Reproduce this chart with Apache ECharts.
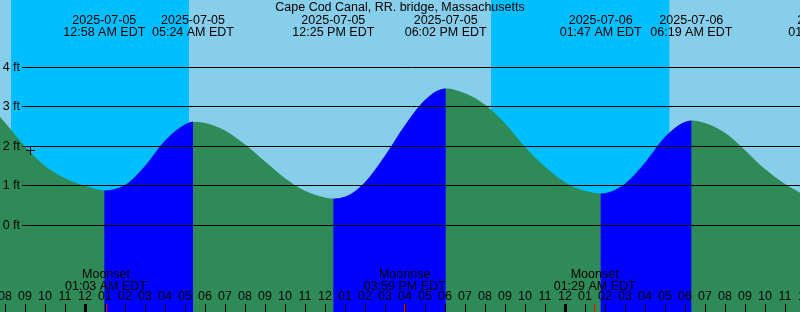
<!DOCTYPE html>
<html><head><meta charset="utf-8">
<script src="https://cdn.jsdelivr.net/npm/echarts@6/dist/echarts.min.js"></script>
<style>html,body{margin:0;padding:0;background:#87CEEB}#c{width:800px;height:312px}</style>
</head><body><div id="c"></div>
<script>
// ---------- data ----------
const titleText = 'Cape Cod Canal, RR. bridge, Massachusetts';
const viewStart = '2025-07-04 19:45';
const viewEnd = '2025-07-06 12:00';

// tide heights (ft)
const sampleTimes = [
  '2025-07-04 19:45','2025-07-04 20:00','2025-07-04 21:00','2025-07-04 22:00','2025-07-04 23:00',
  '2025-07-05 00:00','2025-07-05 02:00','2025-07-05 03:00','2025-07-05 04:00','2025-07-05 05:00',
  '2025-07-05 06:00','2025-07-05 07:00','2025-07-05 08:00','2025-07-05 09:00','2025-07-05 10:00',
  '2025-07-05 11:00','2025-07-05 12:00','2025-07-05 13:00','2025-07-05 14:00','2025-07-05 15:00',
  '2025-07-05 16:00','2025-07-05 17:00','2025-07-05 19:00','2025-07-05 20:00','2025-07-05 21:00',
  '2025-07-05 22:00','2025-07-05 23:00','2025-07-06 00:00','2025-07-06 01:00','2025-07-06 02:00',
  '2025-07-06 03:00','2025-07-06 04:00','2025-07-06 05:00','2025-07-06 06:00','2025-07-06 07:00',
  '2025-07-06 08:00','2025-07-06 09:00','2025-07-06 10:00','2025-07-06 11:00','2025-07-06 11:45'
];
const sampleHeights = [
  2.74, 2.60, 1.99, 1.50, 1.19,
  1.00, 1.02, 1.50, 2.14, 2.55,
  2.59, 2.40, 2.04, 1.61, 1.19,
  0.87, 0.70, 0.72, 1.09, 1.76,
  2.53, 3.17, 3.34, 3.05, 2.58,
  1.98, 1.48, 1.09, 0.87, 0.81,
  1.05, 1.58, 2.23, 2.61, 2.59,
  2.34, 1.90, 1.42, 1.04, 0.82
];

const extremeTimes = ['2025-07-05 00:58','2025-07-05 05:24','2025-07-05 12:25','2025-07-05 18:02','2025-07-06 01:47','2025-07-06 06:19','2025-07-06 13:13'];
const extremeKinds = ['L','H','L','H','L','H','L'];
const extremeHeights = [0.88, 2.62, 0.67, 3.46, 0.80, 2.65, null];
const extremeDates = ['2025-07-05','2025-07-05','2025-07-05','2025-07-05','2025-07-06','2025-07-06','2025-07-06'];
const extremeClock = ['12:58 AM EDT','05:24 AM EDT','12:25 PM EDT','06:02 PM EDT','01:47 AM EDT','06:19 AM EDT','01:13 PM EDT'];

const nightStarts = ['2025-07-04 20:18','2025-07-05 20:18'];
const nightEnds = ['2025-07-05 05:12','2025-07-06 05:13'];

const moonTimes = ['2025-07-05 01:03','2025-07-05 15:59','2025-07-06 01:29'];
const moonEvents = ['Moonset','Moonrise','Moonset'];
const moonClock = ['01:03 AM EDT','03:59 PM EDT','01:29 AM EDT'];

const nowTime = '2025-07-04 21:15';
const nowHeight = 1.90;

const heightTicks = [0, 1, 2, 3, 4];

// ---------- styles ----------
const FONT = '"Liberation Sans", Arial, sans-serif';
const FS = 12.5;
const DAY = '#87CEEB', NIGHT = '#00BFFF', FALL = '#2E8B57', RISE = '#0000FF';
const Y_MIN = -2.1975, Y_MAX = 5.7013;

function t(s) {
  const [d, hm] = s.split(' ');
  const [Y, M, D] = d.split('-').map(Number);
  const [h, m] = hm.split(':').map(Number);
  return new Date(Y, M - 1, D, h, m).getTime();
}
const HOUR = 3600000;
const tMin = t(viewStart), tMax = t(viewEnd);
const hourTicks = [];
for (let v = Math.ceil(tMin / HOUR) * HOUR; v <= tMax; v += HOUR) hourTicks.push(v);
const midnightTicks = hourTicks.filter(v => new Date(v).getHours() === 0);
const moonTicks = moonTimes.map(t);

// tide curve: samples + extremes
const tide = sampleTimes.map((s, i) => [t(s), sampleHeights[i]]);
extremeTimes.forEach((s, i) => { if (extremeHeights[i] != null) tide.push([t(s), extremeHeights[i]]); });
tide.sort((a, b) => a[0] - b[0]);

// rising runs (low -> high), as index ranges into tide
const riseRuns = [];
for (let i = 0; i < extremeTimes.length - 1; i++) {
  if (extremeKinds[i] === 'L' && extremeKinds[i + 1] === 'H' && extremeHeights[i + 1] != null) {
    const a = tide.findIndex(d => d[0] === t(extremeTimes[i]));
    const b = tide.findIndex(d => d[0] === t(extremeTimes[i + 1]));
    riseRuns.push([a, b]);
  }
}

function hourLabel(v) {
  const h = new Date(v).getHours() % 12 || 12;
  return (h < 10 ? '0' : '') + h;
}

// monotone (Steffen) tangents in pixel space
function tangents(p) {
  const n = p.length, m = new Array(n).fill(0);
  const h = [], d = [];
  for (let k = 0; k < n - 1; k++) { h[k] = p[k + 1][0] - p[k][0]; d[k] = (p[k + 1][1] - p[k][1]) / h[k]; }
  m[0] = d[0]; m[n - 1] = d[n - 2];
  for (let k = 1; k < n - 1; k++) {
    if (d[k - 1] * d[k] <= 0) { m[k] = 0; continue; }
    const pk = (d[k - 1] * h[k] + d[k] * h[k - 1]) / (h[k - 1] + h[k]);
    m[k] = Math.sign(d[k]) * Math.min(2 * Math.abs(d[k - 1]), 2 * Math.abs(d[k]), Math.abs(pk));
  }
  return m;
}
function curvePath(p, m, a, b, bottom) {
  let s = 'M' + p[a][0] + ' ' + bottom + 'L' + p[a][0] + ' ' + p[a][1];
  for (let k = a; k < b; k++) {
    const hk = (p[k + 1][0] - p[k][0]) / 3;
    s += 'C' + (p[k][0] + hk) + ' ' + (p[k][1] + m[k] * hk) + ' ' +
         (p[k + 1][0] - hk) + ' ' + (p[k + 1][1] - m[k + 1] * hk) + ' ' +
         p[k + 1][0] + ' ' + p[k + 1][1];
  }
  return s + 'L' + p[b][0] + ' ' + bottom + 'Z';
}

const xBase = { type: 'value', min: tMin, max: tMax, scale: true, position: 'bottom',
  splitLine: { show: false }, axisLine: { show: false, onZero: false } };

const chart = echarts.init(document.getElementById('c'), null, { renderer: 'canvas' });
chart.setOption({
  animation: false,
  backgroundColor: DAY,
  title: {
    text: titleText, left: 'center', top: 2, padding: 0,
    textStyle: { fontSize: FS, fontWeight: 'normal', color: '#000', fontFamily: FONT, lineHeight: 12 }
  },
  grid: [
    { left: 0, right: -5, top: 0, bottom: 0, outerBoundsMode: 'none', containLabel: false },
    { left: 22, right: -5, top: 0, bottom: 0, outerBoundsMode: 'none', containLabel: false }
  ],
  xAxis: [
    Object.assign({}, xBase, {
      gridIndex: 0, z: 10,
      axisTick: { show: true, customValues: hourTicks, inside: true, length: 8, lineStyle: { color: '#000', width: 1 } },
      axisLabel: {
        show: true, customValues: hourTicks, inside: true, margin: 15, verticalAlign: 'middle',
        formatter: hourLabel, color: '#000', fontSize: FS, fontFamily: FONT, hideOverlap: false
      }
    }),
    Object.assign({}, xBase, {
      gridIndex: 0, z: 11, axisLabel: { show: false },
      axisTick: { show: true, customValues: midnightTicks, inside: true, length: 8, lineStyle: { color: '#000', width: 3 } }
    }),
    Object.assign({}, xBase, {
      gridIndex: 0, z: 12, axisLabel: { show: false },
      axisTick: { show: true, customValues: moonTicks, inside: true, length: 8, lineStyle: { color: '#FF0000', width: 1 } }
    }),
    Object.assign({}, xBase, { gridIndex: 1, show: false })
  ],
  yAxis: [
    { type: 'value', gridIndex: 0, min: Y_MIN, max: Y_MAX, show: false, splitLine: { show: false } },
    {
      type: 'value', gridIndex: 1, min: Y_MIN, max: Y_MAX, z: 10,
      axisLine: { show: false },
      axisTick: { show: false, customValues: heightTicks },
      axisLabel: { customValues: heightTicks, formatter: '{value} ft', margin: 2, color: '#000', fontSize: FS, fontFamily: FONT },
      splitLine: { show: true, lineStyle: { color: '#000', width: 1 } }
    }
  ],
  series: [
    {
      type: 'custom', xAxisIndex: 0, yAxisIndex: 0, z: 1, silent: true,
      encode: { x: [0, 1] },
      data: nightStarts.map((s, i) => [t(s), t(nightEnds[i])]),
      renderItem(params, api) {
        const x0 = api.coord([api.value(0), 0])[0];
        const x1 = api.coord([api.value(1), 0])[0];
        const cs = params.coordSys;
        return { type: 'rect', shape: { x: x0, y: cs.y, width: x1 - x0, height: cs.height }, style: { fill: NIGHT } };
      }
    },
    {
      type: 'custom', xAxisIndex: 0, yAxisIndex: 0, z: 2, silent: true,
      encode: { x: 0, y: 1 },
      data: tide,
      renderItem(params, api) {
        if (params.dataIndex !== 0) return null;
        const p = tide.map(d => api.coord(d));
        const m = tangents(p);
        const cs = params.coordSys;
        const bottom = cs.y + cs.height;
        const children = [{ type: 'path', shape: { pathData: curvePath(p, m, 0, p.length - 1, bottom) }, style: { fill: FALL } }];
        riseRuns.forEach(r => children.push({ type: 'path', shape: { pathData: curvePath(p, m, r[0], r[1], bottom) }, style: { fill: RISE } }));
        return { type: 'group', children };
      }
    },
    {
      type: 'custom', xAxisIndex: 0, yAxisIndex: 0, z: 4, silent: true,
      data: [[t(nowTime), nowHeight]],
      renderItem(params, api) {
        const p = api.coord([api.value(0), api.value(1)]);
        const cx = Math.round(p[0]) + 0.5, cy = Math.round(p[1]) + 0.5;
        const st = { stroke: '#000', lineWidth: 1 };
        return { type: 'group', children: [
          { type: 'line', shape: { x1: cx - 4.5, y1: cy, x2: cx + 4.5, y2: cy }, style: st },
          { type: 'line', shape: { x1: cx, y1: cy - 4.5, x2: cx, y2: cy + 4.5 }, style: st }
        ] };
      }
    },
    {
      type: 'custom', xAxisIndex: 0, yAxisIndex: 0, z: 5, silent: true, clip: false,
      data: extremeTimes.map(s => [t(s), 0]),
      renderItem(params, api) {
        const i = params.dataIndex;
        const x = api.coord([api.value(0), 0])[0];
        return { type: 'text', x: x, y: 26.5, style: {
          text: extremeDates[i] + '\n' + extremeClock[i], align: 'center', verticalAlign: 'middle',
          fontSize: FS, fontFamily: FONT, fill: '#000', lineHeight: 11.5 } };
      }
    },
    {
      type: 'custom', xAxisIndex: 0, yAxisIndex: 0, z: 5, silent: true, clip: false,
      data: moonTimes.map(s => [t(s), 0]),
      renderItem(params, api) {
        const i = params.dataIndex;
        const x = api.coord([api.value(0), 0])[0];
        return { type: 'text', x: x, y: 280.5, style: {
          text: moonEvents[i] + '\n' + moonClock[i], align: 'center', verticalAlign: 'middle',
          fontSize: FS, fontFamily: FONT, fill: '#000', lineHeight: 11.5 } };
      }
    }
  ]
});
</script></body></html>
